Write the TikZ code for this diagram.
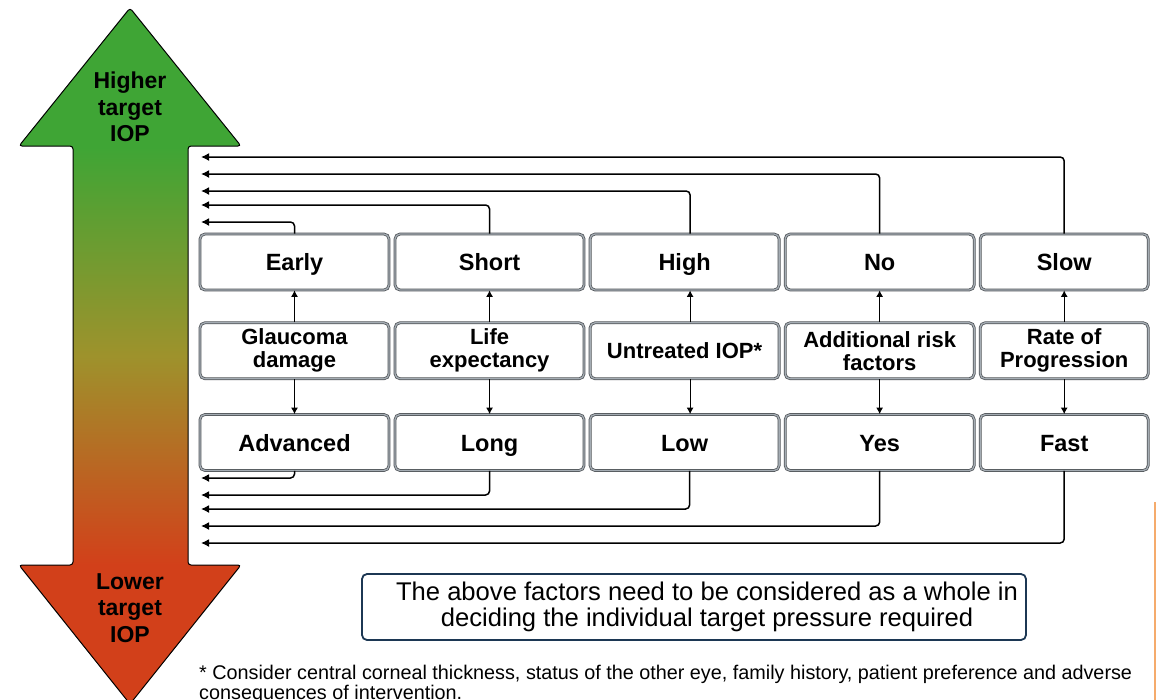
\documentclass[tikz,border=0pt]{standalone}
\usepackage{fontspec}
\setmainfont{Liberation Sans}
\usetikzlibrary{arrows.meta, positioning, calc}

\definecolor{iopgreen}{HTML}{3FA535}
\definecolor{iopred}{HTML}{D2401A}
\definecolor{iopmid}{HTML}{9E922C}
\definecolor{boxline}{HTML}{4F5357}
\definecolor{boxfill}{HTML}{A4ACB3}
\definecolor{noteline}{HTML}{1C3753}
\definecolor{edgeline}{HTML}{F5AB6C}

\pgfdeclareverticalshading{iopshade}{100bp}{color(0bp)=(iopred); color(35bp)=(iopred); color(50bp)=(iopmid); color(65bp)=(iopgreen); color(100bp)=(iopgreen)}

\begin{document}
\begin{tikzpicture}[x=1pt, y=-1pt, node distance=5.3pt,
    box/.style={draw=boxline, double=boxfill, double distance=1.3pt, line width=0.75pt, rounded corners=5pt, fill=white, minimum width=189pt, minimum height=56pt, align=center},
    tbox/.style={box, text height=17pt, text depth=0pt, font=\bfseries\fontsize{23.5}{26}\selectfont},
    mbox/.style={box, font=\bfseries\fontsize{22}{23}\selectfont},
    feed/.style={draw, line width=1.5pt, rounded corners=4pt, -{Latex[length=8pt,width=8pt]}},
    link/.style={draw, line width=1.1pt, -{Latex[length=6.5pt,width=7pt]}}]
    \useasboundingbox (0,0) rectangle (1158,699);

    % big double arrow
    \shadedraw[shading=iopshade, draw=black, line width=1pt, rounded corners=3pt]
        (130,8) -- (241,146) -- (188,146) -- (188,565) -- (241,565) -- (130,704)
        -- (19,565) -- (73,565) -- (73,146) -- (19,146) -- cycle;
    \node[font=\bfseries\fontsize{23}{26.5}\selectfont, align=center] (higher) at (130,107) {Higher\\target\\IOP};
    \node[font=\bfseries\fontsize{23}{26.5}\selectfont, align=center] (lower) at (130,608) {Lower\\target\\IOP};

    % top row
    \node[tbox] (early) at (294.5,262) {Early};
    \node[tbox, right=of early] (short) {Short};
    \node[tbox, right=of short] (high) {High};
    \node[tbox, right=of high] (no) {No};
    \node[tbox, minimum width=168pt, right=of no] (slow) {Slow};

    % factors
    \node[mbox, below=32pt of early] (damage) {Glaucoma\\damage};
    \node[mbox, below=32pt of short] (life) {Life\\expectancy};
    \node[mbox, below=32pt of high] (untreated) {Untreated IOP*};
    \node[mbox, below=32pt of no] (risk) {Additional risk\\factors};
    \node[mbox, minimum width=168pt, below=32pt of slow] (rate) {Rate of\\Progression};

    % bottom row
    \node[tbox, below=35pt of damage] (advanced) {Advanced};
    \node[tbox, below=35pt of life] (long) {Long};
    \node[tbox, below=35pt of untreated] (low) {Low};
    \node[tbox, below=35pt of risk] (yes) {Yes};
    \node[tbox, minimum width=168pt, below=35pt of rate] (fast) {Fast};

    \draw[link] (damage) -- (early);
    \draw[link] (life) -- (short);
    \draw[link] ([xshift=5.5pt]untreated.north) -- ([xshift=5.5pt]high.south);
    \draw[link] (risk) -- (no);
    \draw[link] (rate) -- (slow);
    \draw[link] (damage) -- (advanced);
    \draw[link] (life) -- (long);
    \draw[link] ([xshift=5.5pt]untreated.south) -- ([xshift=5.5pt]low.north);
    \draw[link] (risk) -- (yes);
    \draw[link] (rate) -- (fast);

    % feeds into the arrow
    \coordinate (up1) at (201,222);
    \coordinate (up2) at (201,205);
    \coordinate (up3) at (201,191);
    \coordinate (up4) at (201,174);
    \coordinate (up5) at (201,157);
    \coordinate (dn1) at (201,478);
    \coordinate (dn2) at (201,495);
    \coordinate (dn3) at (201,509);
    \coordinate (dn4) at (201,526);
    \coordinate (dn5) at (201,543);

    \draw[feed] (early.north) |- (up1);
    \draw[feed] (short.north) |- (up2);
    \draw[feed] ([xshift=5.5pt]high.north) |- (up3);
    \draw[feed] (no.north) |- (up4);
    \draw[feed] (slow.north) |- (up5);
    \draw[feed] (advanced.south) |- (dn1);
    \draw[feed] (long.south) |- (dn2);
    \draw[feed] ([xshift=5pt]low.south) |- (dn3);
    \draw[feed] (yes.south) |- (dn4);
    \draw[feed] (fast.south) |- (dn5);

    % summary and footnote
    \node[draw=noteline, line width=1.8pt, rounded corners=5pt, minimum width=664pt, minimum height=66pt, align=center, font=\fontsize{25.6}{26}\selectfont] (note) at (694,607)
        {\hspace*{26pt}The above factors need to be considered as a whole in\\\hspace*{26pt}deciding the individual target pressure required};
    \node[anchor=north west, align=left, inner sep=0pt, font=\fontsize{19.8}{17.5}\selectfont] (footnote) at (199,665)
        {* Consider central corneal thickness, status of the other eye, family history, patient preference and adverse\\consequences of intervention.};

    \draw[edgeline, line width=2.5pt] (1155,502) -- (1155,702);
\end{tikzpicture}
\end{document}
